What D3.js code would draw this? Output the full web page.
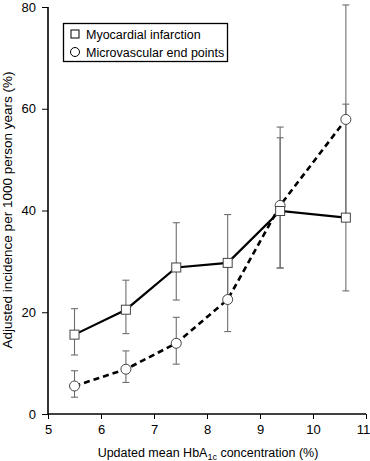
<!DOCTYPE html>
<html>
<head>
<meta charset="utf-8">
<script src="https://cdn.jsdelivr.net/npm/d3@7"></script>
<style>
  body { margin: 0; background: #fff; }
  text { font-family: "Liberation Sans", Arial, sans-serif; fill: #000; }
</style>
</head>
<body>
<div id="chart"></div>
<script>
(function(){

  // HbA1c category means (x) and incidence (y)
  var hba1c = [5.5, 6.47, 7.42, 8.39, 9.38, 10.62];
  var miValues = [15.6, 20.5, 28.8, 29.7, 39.9, 38.6];
  var miLow = [11.6, 15.8, 22.4, 22.5, 28.7, 24.2];
  var miHigh = [20.7, 26.3, 37.6, 39.2, 54.3, 60.9];
  var microValues = [5.5, 8.8, 13.9, 22.5, 41.0, 57.9];
  var microLow = [3.3, 6.2, 9.8, 16.2, 28.7, 38.6];
  var microHigh = [8.5, 12.4, 19.0, 29.7, 56.4, 80.4];
  var xTicks = [5, 6, 7, 8, 9, 10, 11];
  var yTicks = [0, 20, 40, 60, 80];
  var seriesNames = ['Myocardial infarction', 'Microvascular end points'];

  var width = 370, height = 461;

  var x = d3.scaleLinear().domain([5, 11]).range([48, 366]);
  var y = d3.scaleLinear().domain([0, 80]).range([414, 7]);

  var svg = d3.select('#chart')
    .append('svg')
    .attr('width', width)
    .attr('height', height);

  // axes
  var xAxis = svg.append('g')
    .attr('transform', 'translate(0,' + y(0) + ')')
    .call(d3.axisBottom(x).tickValues(xTicks).tickSize(5).tickPadding(6).tickFormat(d3.format('d')));
  var yAxis = svg.append('g')
    .attr('transform', 'translate(' + x(5) + ',0)')
    .call(d3.axisLeft(y).tickValues(yTicks).tickSize(6).tickPadding(6).tickFormat(d3.format('d')));

  [xAxis, yAxis].forEach(function(ax) {
    ax.select('.domain').attr('stroke', '#000').attr('stroke-width', 1.6);
    ax.selectAll('.tick line').attr('stroke', '#000').attr('stroke-width', 1);
    ax.selectAll('.tick text')
      .style('font-family', '"Liberation Sans", Arial, sans-serif')
      .style('font-size', '13px')
      .attr('fill', '#000');
  });
  // last x label sits against the right edge
  xAxis.selectAll('.tick text').filter(function(d) { return d === 11; }).attr('dx', -3);
  xAxis.select('.domain').attr('d', 'M' + x(5) + ',0H' + x(11));
  yAxis.select('.domain').attr('d', 'M0,' + y(0) + 'V' + y(80));

  // axis titles
  var xTitle = svg.append('text')
    .attr('x', (x(5) + x(11)) / 2 + 1)
    .attr('y', 457)
    .attr('text-anchor', 'middle')
    .style('font-size', '12.5px');
  xTitle.append('tspan').text('Updated mean HbA');
  xTitle.append('tspan').attr('dy', 3).style('font-size', '9px').text('1c');
  xTitle.append('tspan').attr('dy', -3).text(' concentration (%)');

  svg.append('text')
    .attr('transform', 'translate(12,' + 210 + ') rotate(-90)')
    .attr('text-anchor', 'middle')
    .style('font-size', '13.5px')
    .text('Adjusted incidence per 1000 person years (%)');

  // error bars
  function errorBars(lows, highs, cls) {
    var g = svg.append('g').attr('class', cls);
    var capW = 3.5;
    hba1c.forEach(function(xv, i) {
      g.append('line')
        .attr('x1', x(xv)).attr('x2', x(xv))
        .attr('y1', y(lows[i])).attr('y2', y(highs[i]));
      [lows[i], highs[i]].forEach(function(v) {
        g.append('line')
          .attr('x1', x(xv) - capW).attr('x2', x(xv) + capW)
          .attr('y1', y(v)).attr('y2', y(v));
      });
    });
    g.selectAll('line').attr('stroke', '#6e6e6e').attr('stroke-width', 1.1);
  }
  errorBars(miLow, miHigh, 'err-mi');
  errorBars(microLow, microHigh, 'err-micro');

  var line = d3.line()
    .x(function(d) { return x(d[0]); })
    .y(function(d) { return y(d[1]); });

  var miPts = hba1c.map(function(v, i) { return [v, miValues[i]]; });
  var microPts = hba1c.map(function(v, i) { return [v, microValues[i]]; });

  svg.append('path')
    .datum(microPts)
    .attr('d', line)
    .attr('fill', 'none')
    .attr('stroke', '#000')
    .attr('stroke-width', 2.6)
    .attr('stroke-dasharray', '6,4');

  svg.append('path')
    .datum(miPts)
    .attr('d', line)
    .attr('fill', 'none')
    .attr('stroke', '#000')
    .attr('stroke-width', 2.2);

  svg.selectAll('circle.micro')
    .data(microPts)
    .enter()
    .append('circle')
    .attr('class', 'micro')
    .attr('cx', function(d) { return x(d[0]); })
    .attr('cy', function(d) { return y(d[1]); })
    .attr('r', 5)
    .attr('fill', '#fff')
    .attr('stroke', '#444')
    .attr('stroke-width', 1);

  svg.selectAll('rect.mi')
    .data(miPts)
    .enter()
    .append('rect')
    .attr('class', 'mi')
    .attr('x', function(d) { return x(d[0]) - 4.5; })
    .attr('y', function(d) { return y(d[1]) - 4.5; })
    .attr('width', 9)
    .attr('height', 9)
    .attr('fill', '#fff')
    .attr('stroke', '#444')
    .attr('stroke-width', 1);

  // legend
  var legend = svg.append('g');
  legend.append('rect')
    .attr('x', 63.5).attr('y', 23.5)
    .attr('width', 164).attr('height', 38)
    .attr('fill', '#fff')
    .attr('stroke', '#000')
    .attr('stroke-width', 1.3);
  legend.append('rect')
    .attr('x', 71).attr('y', 30).attr('width', 8).attr('height', 8)
    .attr('fill', '#fff').attr('stroke', '#000').attr('stroke-width', 1);
  legend.append('circle')
    .attr('cx', 75).attr('cy', 52).attr('r', 4.5)
    .attr('fill', '#fff').attr('stroke', '#000').attr('stroke-width', 1);
  legend.selectAll('text.leg')
    .data(seriesNames)
    .enter()
    .append('text')
    .attr('class', 'leg')
    .attr('x', 86)
    .attr('y', function(d, i) { return 38.5 + i * 18; })
    .style('font-size', '12.5px')
    .text(function(d) { return d; });

})();
</script>
</body>
</html>
